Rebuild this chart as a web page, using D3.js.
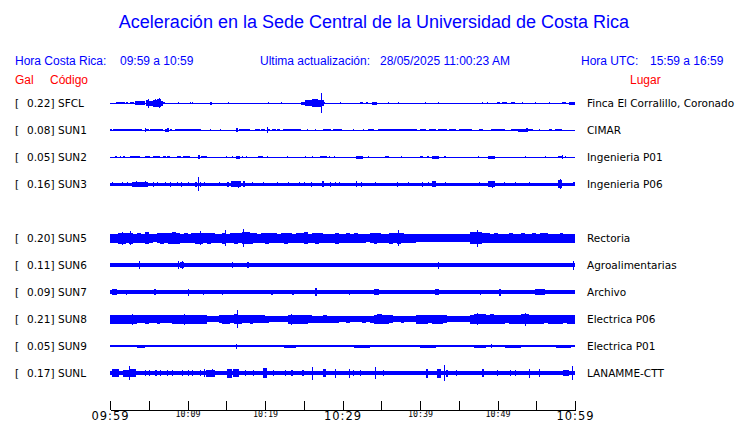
<!DOCTYPE html>
<html><head><meta charset="utf-8">
<script src="https://cdn.jsdelivr.net/npm/d3@7"></script>
<style>body{margin:0;background:#fff}svg{display:block}</style>
</head><body>
<svg id="c" width="740" height="423"></svg>
<script>
// ---------- DATA ----------
const slots = ["SFCL","SUN1","SUN2","SUN3","SUN4","SUN5","SUN6","SUN7","SUN8","SUN9","SUNL"];
const stationCodes = ["SFCL","SUN1","SUN2","SUN3","SUN5","SUN6","SUN7","SUN8","SUN9","SUNL"];
const peakGal = [0.22,0.08,0.05,0.16,0.20,0.11,0.09,0.21,0.05,0.17];
const places = ["Finca El Corralillo, Coronado","CIMAR","Ingenieria P01","Ingenieria P06","Rectoria","Agroalimentarias","Archivo","Electrica P06","Electrica P01","LANAMME-CTT"];
// background noise half-amplitude (relative units)
const floorAmp = [0.5,0.5,0.5,1.5,3.3,1.7,1.7,2.8,1.2,2.0];
const tickTimes = ["09:59","10:04","10:09","10:14","10:19","10:24","10:29","10:34","10:39","10:44","10:49","10:54","10:59"];
const majorLabels = ["09:59","10:29","10:59"];
const minorLabels = ["10:09","10:19","10:39","10:49"];
// bursts: [start minute, end minute, half-amplitude]
const SFCL = [[0.8,1.9,1.2],[2.0,2.3,0.8],[2.6,3.1,1.0],[3.2,4.1,1.8],[3.6,3.8,2.3],[4.1,4.5,2.0],[4.6,4.9,2.6],[4.9,5.0,4.5],[5.0,5.5,2.5],[5.5,6.0,3.5],[5.8,5.9,4.3],[6.0,6.6,4.0],[6.3,6.5,4.7],[6.6,6.9,2.5],[6.9,7.1,1.0],[8.8,8.9,1.3],[10.3,10.4,1.3],[10.6,10.7,1.0],[12.9,13.1,1.5],[15.2,15.3,1.2],[20.4,20.5,1.0],[22.1,22.2,1.2],[24.7,25.1,1.5],[25.1,25.5,2.7],[25.5,26.0,3.3],[26.0,26.4,3.8],[26.4,26.9,4.3],[26.9,27.2,3.5],[27.2,27.3,9.7],[27.3,27.6,3.0],[27.6,27.8,1.2],[29.7,29.8,1.2],[32.3,32.7,1.2],[33.0,33.3,1.3],[33.8,34.4,1.5],[35.9,36.0,1.3],[37.2,37.3,1.3],[40.6,40.7,1.2],[42.3,42.4,1.3],[48.0,48.1,1.2],[48.6,48.7,1.2],[49.9,50.3,1.0],[50.6,51.2,1.3],[51.7,52.3,1.3],[53.1,53.2,1.0],[54.8,54.9,1.0],[56.6,56.7,1.3],[58.3,58.9,1.3],[59.2,60,1.5]];
const SUN1 = [[0,0.3,1.2],[0.4,4.1,1.3],[4.5,4.6,2.2],[4.6,5.0,1.2],[5.2,6.8,1.2],[7.1,7.3,1.5],[7.4,7.6,1.7],[7.8,8.0,1.2],[8.4,9.5,1.2],[9.6,11.8,1.2],[12.9,13.0,1.0],[14.2,14.3,1.0],[16.3,16.5,1.6],[16.6,18.1,1.2],[18.7,19.4,1.2],[19.5,20.0,1.2],[20.2,20.3,2.7],[20.4,20.7,1.2],[20.9,21.4,1.2],[21.6,21.9,1.2],[22.3,24.6,1.2],[25.4,25.5,1.2],[26.4,26.6,1.2],[27.5,28.5,1.2],[28.8,29.9,1.2],[31.4,31.5,1.2],[32.6,32.7,1.0],[33.3,34.0,1.2],[34.6,37.2,1.2],[37.2,39.6,1.3],[40.0,40.8,1.2],[41.2,42.0,1.2],[42.3,43.5,1.2],[43.8,44.6,1.2],[45.0,46.7,1.2],[47.6,48.1,1.2],[49.2,51.0,1.2],[51.8,52.6,1.3],[52.6,53.7,1.5],[53.7,53.9,2.3],[53.9,54.6,1.3],[55.3,55.4,1.2],[56.6,57.0,1.2],[57.4,58.3,1.2]];
const SUN2 = [[0.6,0.9,1.2],[1.3,1.4,1.0],[1.7,1.9,1.0],[2.6,3.9,1.3],[4.5,5.2,1.2],[5.6,6.5,1.2],[6.9,7.2,1.3],[7.4,7.7,1.0],[8.6,9.1,1.0],[9.4,10.3,1.3],[11.4,11.6,1.8],[11.7,12.5,1.2],[15.0,15.1,1.0],[15.7,15.8,1.0],[16.3,16.8,1.5],[17.0,17.1,1.0],[17.6,17.7,1.0],[19.1,19.8,1.3],[20.2,20.3,1.0],[22.9,23.0,1.3],[25.2,25.3,1.0],[26.0,26.1,1.0],[27.1,28.0,1.4],[28.3,28.4,1.0],[28.9,29.0,1.2],[31.8,32.6,1.5],[33.3,33.4,1.0],[35.5,36.0,1.0],[37.6,37.7,1.2],[40.0,40.4,1.2],[40.9,41.1,1.3],[41.6,42.4,1.5],[43.1,43.3,1.2],[47.5,47.6,1.0],[48.8,49.7,1.5],[53.5,53.6,1.0],[56.1,56.2,1.0],[57.8,58.3,1.4],[58.3,58.4,2.2],[58.7,58.9,1.2]];
const SUN3 = [[0.3,0.4,2.3],[1.6,1.7,2.0],[2.2,2.3,2.3],[2.8,4.9,2.5],[3.4,3.5,3.2],[4.5,4.6,3.0],[5.6,5.7,2.5],[6.1,6.2,2.3],[7.1,7.2,2.3],[7.7,7.8,2.5],[8.6,8.7,2.3],[9.2,9.3,2.5],[10.0,10.1,2.3],[11.0,11.2,2.5],[11.4,11.5,7.0],[11.6,11.8,2.5],[12.1,12.2,2.3],[14.0,14.1,2.3],[15.1,15.3,2.5],[15.6,16.9,2.7],[16.5,16.6,3.5],[17.1,17.4,2.8],[18.3,18.4,2.3],[19.8,19.9,2.3],[21.5,21.6,2.3],[23.0,23.1,2.3],[24.4,24.5,2.3],[25.0,25.1,2.3],[25.9,26.0,2.5],[27.4,27.6,3.2],[28.4,28.5,2.5],[29.0,29.1,2.3],[29.6,29.7,2.3],[31.8,31.9,3.3],[32.4,32.5,2.5],[34.2,34.3,2.3],[37.0,37.1,2.5],[38.5,38.6,2.3],[40.2,40.3,2.5],[41.0,41.1,2.3],[41.6,42.1,2.7],[43.2,43.3,2.3],[47.6,47.7,2.3],[48.8,49.7,3.0],[49.3,49.4,3.5],[50.9,51.0,2.3],[52.3,52.4,2.3],[54.1,54.2,2.3],[57.8,58.3,4.0],[58.0,58.1,4.8],[59.8,60,2.3]];
// SUN5 / SUN8: half-minute envelope + isolated spikes [minute, half-amplitude]
const SUN5env = [4.5,4.5,5.5,5.5,5,5.5,4.5,5,4.5,6, 4.5,4.2,5,5.5,5,5.5,6,5.5,4.5,5, 4.5,5,5.5,5.5,5,5.5,5,4.5,4.5,5.5, 4.5,5,5.5,5,6,6,5.5,5,4.5,5, 5.5,5,5,4.5,5,5.5,5,4.5,5,5, 6,4.5,5,5.5,5,4.5,4.5,4.5,5.5,4.5, 4.5,5,4.5,5,4.5,4.5,4.2,5,5.5,5, 4.5,4.5,5.5,5,5.5,5,4.5,4.5,4.5,4, 3.8,3.8,4,3.8,3.8,3.8,4,3.8,3.8,3.8, 3.8,3.8,4,6,6,6,5,5,4.5,5, 4.5,4.5,4.5,5,4.5,4.5,5,4.5,4.5,5, 4.5,5,5,4.5,4.5,4.5,5,4.5,4.5,4.5];
const SUN5spk = [[1.5,6.5],[2.6,7],[4.9,6],[11.6,6.7],[14.8,8],[17.2,9],[25.2,6],[37.2,8],[47.4,8.5]];
const SUN8env = [4.5,4.5,4.5,4.5,4.5,4.5,4.5,4,4,4.5, 4,4,4.5,4,4,4,4.5,4.5,4.5,4.5, 4.5,4.5,4.5,4.5,4.5,3,3.2,3,4,4.5, 4.5,4,5,4.5,4,4,4.5,4,4,4, 3.5,3,3.2,3,3,3.2,4.5,4.5,4.5,4.5, 4.5,4,3.5,3.5,3.5,4,3.5,3.5,3.5,3.2, 3.2,3.5,3.2,3.2,3.2,3.5,3.2,3.5,4.5,5, 4.5,4.5,4,3.2,3.2,3.5,3.2,3.2,3.2,4.5, 4.5,4.5,4,4.5,4.5,4.5,4,3,3,3.2, 3,3,3,4.5,5,5,5,4.5,5,4.5, 4.5,4.5,4,4.5,4.5,4.5,5,5,4.5,4.5, 4.5,4.5,4,4.5,4.5,4.5,4.5,4,4.5,4.5];
const SUN8spk = [[2.9,5.5],[9.5,5.5],[16.4,9],[23.4,5.5],[35.0,5],[47.3,6],[53.5,6.5]];
const SUN6 = [[0,0.3,2.3],[0.6,0.7,2.0],[1.2,1.3,2.2],[3.8,3.9,4.0],[4.4,4.5,2.3],[5.4,5.5,2.3],[8.8,8.9,4.2],[9.0,9.5,2.8],[9.3,9.4,3.8],[11.6,11.7,2.2],[15.8,15.9,3.0],[17.7,17.9,3.0],[19.7,19.8,2.3],[32.3,32.4,2.2],[37.0,37.1,2.3],[39.0,39.1,2.0],[41.0,41.1,2.0],[42.3,42.4,3.5],[44.1,44.2,2.2],[46.2,46.3,2.0],[48.8,48.9,2.2],[51.4,51.5,2.0],[54.0,54.1,2.0],[59.7,59.9,4.5]];
const SUN7 = [[0.2,0.9,3.2],[2.0,2.1,2.5],[2.5,2.6,2.3],[5.7,5.9,2.7],[7.8,7.9,2.3],[10.1,10.2,3.5],[12.0,12.1,2.5],[13.3,13.4,2.3],[14.4,14.5,2.5],[15.4,15.5,2.3],[16.5,16.6,2.3],[17.5,17.6,2.3],[18.9,19.0,2.3],[20.8,21.0,2.5],[21.9,22.1,2.3],[23.5,23.8,2.5],[24.8,24.9,2.3],[26.5,26.7,4.0],[30.8,31.0,2.5],[32.0,32.1,2.3],[33.1,33.3,2.3],[34.0,34.7,2.6],[36.8,36.9,2.3],[38.6,38.7,2.3],[41.9,42.5,3.0],[44.0,44.1,2.3],[45.3,45.4,2.3],[47.7,47.8,2.5],[49.1,49.2,2.3],[50.2,50.4,3.5],[52.0,52.1,2.3],[53.9,54.0,2.3],[54.9,56.1,3.3],[56.9,57.0,2.3],[57.8,57.9,2.3],[58.9,59.0,2.3],[59.5,59.6,2.3]];
const SUN9 = [[0.5,1.5,1.4],[3.5,4.5,1.5],[7.5,8.3,1.4],[10.5,11.5,1.4],[13.0,14.0,1.4],[16.3,16.4,2.5],[17.0,18.5,1.4],[20.0,21.0,1.4],[22.5,24.0,1.5],[25.5,27.0,1.4],[29.0,30.0,1.4],[31.5,33.5,1.5],[36.0,37.5,1.4],[40.0,42.0,1.5],[43.5,44.5,1.4],[47.0,48.5,1.5],[49.2,49.3,2.0],[51.0,53.0,1.5],[54.5,56.0,1.4],[57.5,59.5,1.5]];
const SUNL = [[0.2,1.1,4.0],[1.7,2.4,3.5],[2.5,2.6,7.0],[2.6,3.4,4.0],[4.5,4.6,3.0],[5.0,5.1,2.8],[5.8,6.0,3.0],[6.5,6.6,2.8],[7.3,7.4,3.0],[8.0,8.1,2.8],[9.3,9.4,3.0],[10.0,10.1,2.8],[10.6,10.7,3.0],[11.6,11.8,3.2],[12.1,12.2,4.0],[12.4,13.6,3.5],[13.2,13.3,4.3],[15.1,15.7,4.5],[15.9,16.6,4.0],[17.4,17.5,3.0],[18.5,18.6,3.2],[19.8,20.2,5.0],[21.0,21.1,2.8],[22.6,22.7,3.0],[23.4,23.6,3.0],[24.8,25.0,3.0],[26.1,26.2,6.5],[27.5,27.9,4.0],[29.0,29.1,4.5],[30.8,31.0,4.5],[31.4,31.5,3.0],[32.3,32.4,3.0],[34.2,34.3,6.0],[35.2,35.3,3.0],[40.8,41.0,4.5],[42.2,42.7,4.5],[43.1,43.2,8.0],[43.4,43.6,3.5],[44.7,44.8,2.8],[48.0,48.3,3.8],[49.9,50.0,2.8],[51.6,51.7,3.0],[52.2,52.3,2.8],[54.1,54.2,4.5],[55.3,55.4,3.8],[58.5,59.2,3.2],[59.6,59.7,7.0]];

// ---------- CHART ----------
const BLUE = "#0000ff", RED = "#ff0000";
const envToBursts = env => env.map((a,i)=>[i*0.5,(i+1)*0.5,a]);
const spikesToBursts = sp => sp.map(([t,a])=>[t,t+0.12,a]);
const bursts = [SFCL,SUN1,SUN2,SUN3,
  envToBursts(SUN5env).concat(spikesToBursts(SUN5spk)),
  SUN6,SUN7,
  envToBursts(SUN8env).concat(spikesToBursts(SUN8spk)),
  SUN9,SUNL];

const svg = d3.select("#c");
const parse = d3.timeParse("%H:%M");
const t0 = parse(tickTimes[0]), t1 = parse(tickTimes[tickTimes.length-1]);
const x = d3.scaleTime().domain([t0,t1]).range([110,575]);
const xm = m => x(new Date(+t0 + m*60000));
const yRow = d3.scalePoint().domain(slots).range([103,373]);
const amp = d3.scaleLinear().domain([-12,12]).range([12,-12]);

const sans = "'Liberation Sans', Arial, sans-serif";
const dj = "'DejaVu Sans', sans-serif";

svg.append("text").attr("x",374).attr("y",28).attr("text-anchor","middle")
  .attr("font-family",sans).attr("font-size",18).attr("fill",BLUE)
  .text("Aceleración en la Sede Central de la Universidad de Costa Rica");

const hdr = [["Hora Costa Rica:",15],["09:59 a 10:59",120],["Ultima actualización:",260],["28/05/2025 11:00:23 AM",380],["Hora UTC:",581],["15:59 a 16:59",650]];
svg.selectAll("text.hdr").data(hdr).join("text").attr("class","hdr")
  .attr("x",d=>d[1]).attr("y",65).attr("font-family",sans).attr("font-size",12)
  .attr("fill",BLUE).text(d=>d[0]);
const hdr2 = [["Gal",15],["Código",50],["Lugar",630]];
svg.selectAll("text.hdr2").data(hdr2).join("text").attr("class","hdr2")
  .attr("x",d=>d[1]).attr("y",84).attr("font-family",sans).attr("font-size",12)
  .attr("fill",RED).text(d=>d[0]);

stationCodes.forEach((code,i)=>{
  const cy = yRow(code);
  const g = svg.append("g");
  g.append("text").attr("x",15).attr("y",cy+4).attr("font-family",dj).attr("font-size",10.5).text("[");
  g.append("text").attr("x",27).attr("y",cy+4).attr("font-family",dj).attr("font-size",10.5).text(peakGal[i].toFixed(2)+"]");
  g.append("text").attr("x",58).attr("y",cy+4).attr("font-family",dj).attr("font-size",10.5).text(code);
  g.append("text").attr("x",587).attr("y",cy+4).attr("font-family",dj).attr("font-size",10.5).text(places[i]);
  const rectOf = (m0,m1,a) => {
    const xa = Math.round(xm(m0)), xb = Math.max(xa+1, Math.round(xm(m1)));
    const ya = Math.round(cy + amp(a)), yb = Math.max(ya+1, Math.round(cy + amp(-a)));
    return {x:xa,w:xb-xa,y:ya,h:yb-ya};
  };
  const all = [[0,60,floorAmp[i]]].concat(bursts[i]).map(d=>rectOf(d[0],d[1],d[2]));
  g.selectAll("rect").data(all).join("rect")
    .attr("x",d=>d.x).attr("y",d=>d.y).attr("width",d=>d.w).attr("height",d=>d.h)
    .attr("fill",BLUE).attr("shape-rendering","crispEdges");
});

// axis
const axis = d3.axisBottom(x).tickValues(tickTimes.map(parse)).tickSizeInner(-9).tickSizeOuter(0).tickPadding(4)
  .tickFormat(d=>{const s=d3.timeFormat("%H:%M")(d); return (majorLabels.includes(s)||minorLabels.includes(s))?s:"";});
const ag = svg.append("g").attr("transform","translate(0,409.5)").call(axis);
ag.select(".domain").attr("stroke","#000").attr("shape-rendering","crispEdges");
ag.selectAll(".tick line").attr("stroke","#000").attr("shape-rendering","crispEdges");
ag.selectAll(".tick text").each(function(d){
  const s = d3.timeFormat("%H:%M")(d);
  const t = d3.select(this).attr("fill","#000").attr("dy",null);
  if (majorLabels.includes(s)) t.attr("y",10).attr("font-family",dj).attr("font-size",11.5).attr("letter-spacing",1);
  else t.attr("y",7.5).attr("font-family","'DejaVu Sans Mono', monospace").attr("font-size",8.3);
});
</script>
</body></html>
